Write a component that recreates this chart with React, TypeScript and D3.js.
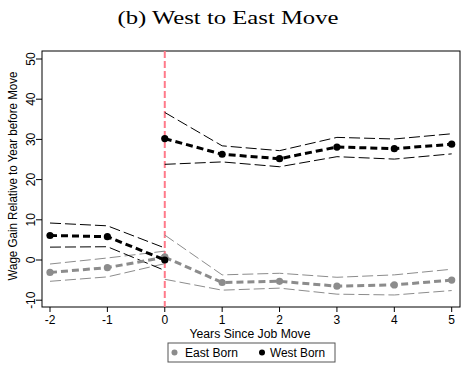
import React from "react";
import * as d3 from "d3";

const years = [-2, -1, 0, 1, 2, 3, 4, 5];
const preYears = [-2, -1, 0];
const postYears = [0, 1, 2, 3, 4, 5];

const westPre = [6.1, 5.8, 0.0];
const westPreHi = [9.2, 8.5, 3.0];
const westPreLo = [3.2, 3.3, -2.6];
const westPost = [30.2, 26.3, 25.2, 28.1, 27.7, 28.8];
const westPostHi = [36.7, 28.4, 27.2, 30.5, 30.1, 31.4];
const westPostLo = [23.8, 24.4, 23.2, 25.7, 25.1, 26.4];

const eastPre = [-3.1, -1.9, 0.7];
const eastPreHi = [-1.0, 0.5, 2.2];
const eastPreLo = [-5.3, -4.2, -0.9];
const eastPost = [0.7, -5.6, -5.3, -6.5, -6.2, -5.0];
const eastPostHi = [6.2, -3.7, -3.3, -4.3, -3.7, -2.3];
const eastPostLo = [-4.8, -7.5, -7.0, -8.5, -8.7, -7.6];

const yTicks = [-10, 0, 10, 20, 30, 40, 50];

const GRAY = "#8c8c8c";
const BLACK = "#000000";

export default function App() {
  const left = 42, right = 460, top = 51, bottom = 307;
  const x = d3.scaleLinear().domain([-2, 5]).range([50, 451.7]);
  const y = d3.scaleLinear().domain([-10, 50]).range([300.2, 59]);
  const line = d3
    .line<[number, number]>()
    .x((d) => x(d[0]))
    .y((d) => y(d[1]));
  const pts = (xs: number[], vs: number[]) => xs.map((v, i) => [v, vs[i]] as [number, number]);

  const ci = (xs: number[], vs: number[], color: string, key: string) => (
    <path key={key} d={line(pts(xs, vs)) || ""} fill="none" stroke={color} strokeWidth={1} strokeDasharray="11 4" />
  );
  const est = (xs: number[], vs: number[], color: string, key: string) => (
    <g key={key}>
      <path d={line(pts(xs, vs)) || ""} fill="none" stroke={color} strokeWidth={3} strokeDasharray="7 4" />
      {xs.map((v, i) => (
        <circle key={i} cx={x(v)} cy={y(vs[i])} r={3.6} fill={color} />
      ))}
    </g>
  );

  const font = "'Liberation Sans', Arial, sans-serif";

  return (
    <svg width={475} height={378} style={{ position: "absolute", left: 0, top: 0, background: "#fff" }}>
      <rect x={0} y={0} width={475} height={378} fill="#fff" />
      <text x={228} y={24} textAnchor="middle" fontFamily="'Liberation Serif', serif" fontSize={19} textLength={221} lengthAdjust="spacingAndGlyphs">
        (b) West to East Move
      </text>
      {/* frame */}
      <rect x={left} y={top} width={right - left} height={bottom - top} fill="none" stroke="#000" strokeWidth={1} />
      {/* y ticks */}
      {yTicks.map((t) => (
        <g key={t}>
          <line x1={36} x2={left} y1={y(t)} y2={y(t)} stroke="#000" />
          <text transform={`translate(${35},${y(t)}) rotate(-90)`} textAnchor="middle" fontFamily={font} fontSize={12} fill="#000">
            {t}
          </text>
        </g>
      ))}
      {/* x ticks */}
      {years.map((t) => (
        <g key={t}>
          <line x1={x(t)} x2={x(t)} y1={bottom} y2={bottom + 5} stroke="#000" />
          <text x={x(t)} y={324} textAnchor="middle" fontFamily={font} fontSize={12} fill="#000">
            {t}
          </text>
        </g>
      ))}
      <text x={250} y={338} textAnchor="middle" fontFamily={font} fontSize={12.5} fill="#000" textLength={121} lengthAdjust="spacingAndGlyphs">
        Years Since Job Move
      </text>
      <text transform={`translate(17,176) rotate(-90)`} textAnchor="middle" fontFamily={font} fontSize={12.5} fill="#000" textLength={209} lengthAdjust="spacingAndGlyphs">
        Wage Gain Relative to Year before Move
      </text>
      {/* event line */}
      <line x1={x(0)} x2={x(0)} y1={top} y2={bottom} stroke="#ff7a8a" strokeWidth={2} strokeDasharray="7 3" />
      {/* CIs */}
      {ci(preYears, eastPreHi, GRAY, "e1")}
      {ci(preYears, eastPreLo, GRAY, "e2")}
      {ci(postYears, eastPostHi, GRAY, "e3")}
      {ci(postYears, eastPostLo, GRAY, "e4")}
      {ci(preYears, westPreHi, BLACK, "w1")}
      {ci(preYears, westPreLo, BLACK, "w2")}
      {ci(postYears, westPostHi, BLACK, "w3")}
      {ci(postYears, westPostLo, BLACK, "w4")}
      {est(preYears, eastPre, GRAY, "ep")}
      {est(postYears, eastPost, GRAY, "eq")}
      {est(preYears, westPre, BLACK, "wp")}
      {est(postYears, westPost, BLACK, "wq")}
      {/* legend */}
      <rect x={168} y={343} width={167} height={19} fill="#fff" stroke="#555" strokeWidth={1} />
      <circle cx={174.5} cy={352.5} r={3} fill={GRAY} />
      <text x={185} y={357} fontFamily={font} fontSize={12.5} fill="#000" textLength={53} lengthAdjust="spacingAndGlyphs">East Born</text>
      <circle cx={262} cy={352.5} r={3} fill={BLACK} />
      <text x={270} y={357} fontFamily={font} fontSize={12.5} fill="#000" textLength={55} lengthAdjust="spacingAndGlyphs">West Born</text>
    </svg>
  );
}
